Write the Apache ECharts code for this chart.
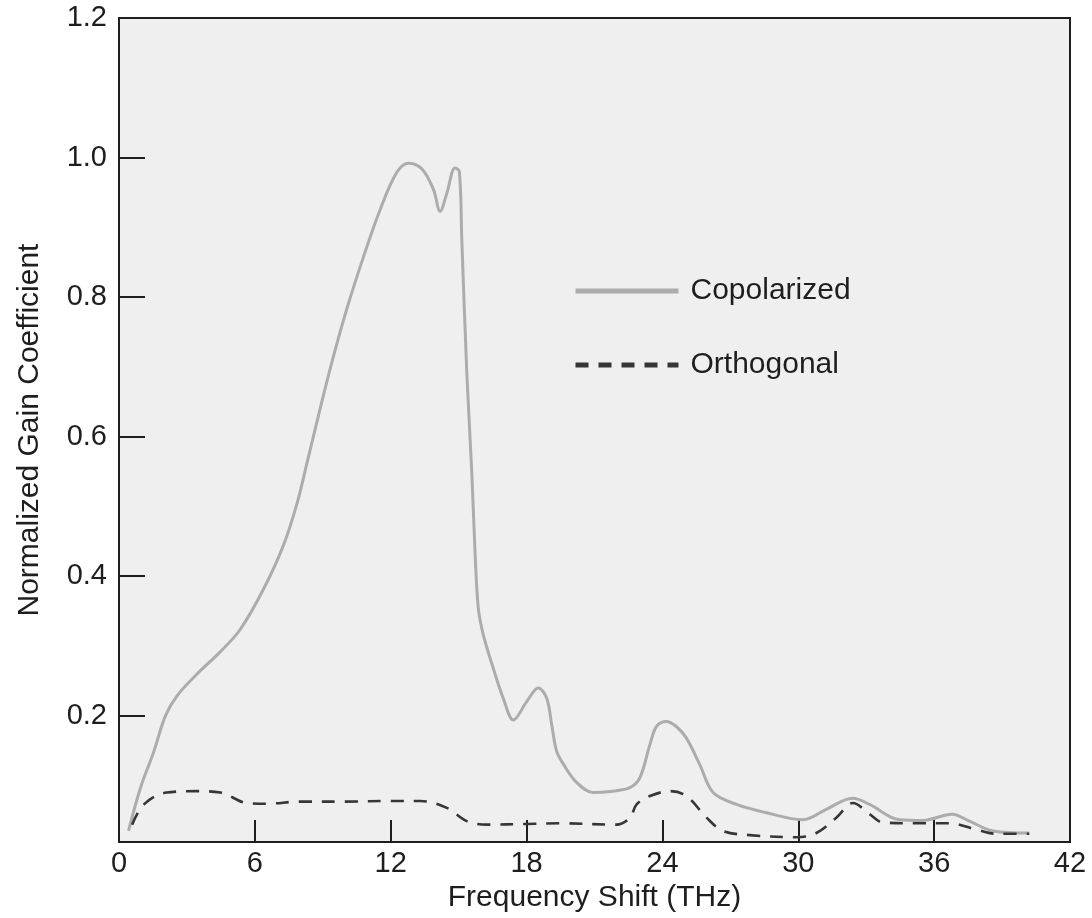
<!DOCTYPE html>
<html>
<head>
<meta charset="utf-8">
<title>Raman gain spectrum</title>
<script src="https://cdn.jsdelivr.net/npm/echarts@6/dist/echarts.min.js"></script>
<style>
  html, body { margin: 0; padding: 0; background: #ffffff; }
  #chart { width: 1092px; height: 918px; }
</style>
</head>
<body>
<div id="chart"></div>
<script>
// Frequency shift (THz) and normalized gain for the copolarized pump/signal case
const copolFreq = [0.42, 0.95, 1.54, 2.05, 2.57, 3.45, 4.48, 5.36, 6.39, 7.27, 7.86, 8.3, 8.89, 9.47, 10.07, 10.8, 11.54, 12.27, 12.8, 13.4, 13.89, 14.18, 14.48, 14.84, 15.03, 15.14, 15.36, 15.58, 15.73, 15.87, 16.09, 16.53, 16.97, 17.42, 18.0, 18.52, 18.89, 19.11, 19.33, 19.64, 20.2, 20.94, 21.8, 22.56, 23.0, 23.45, 23.74, 24.18, 24.6, 25.06, 25.65, 26.24, 27.27, 28.6, 30.2, 31.24, 32.4, 33.15, 34.47, 35.5, 36.8, 37.56, 38.6, 40.2];
const copolGain = [0.035, 0.097, 0.149, 0.2, 0.229, 0.26, 0.292, 0.324, 0.382, 0.445, 0.504, 0.562, 0.641, 0.715, 0.784, 0.858, 0.926, 0.979, 0.992, 0.983, 0.954, 0.923, 0.949, 0.985, 0.98, 0.882, 0.692, 0.549, 0.43, 0.354, 0.316, 0.268, 0.225, 0.194, 0.22, 0.24, 0.225, 0.187, 0.149, 0.13, 0.105, 0.09, 0.092, 0.097, 0.111, 0.159, 0.185, 0.192, 0.185, 0.168, 0.13, 0.09, 0.073, 0.061, 0.051, 0.066, 0.082, 0.073, 0.051, 0.05, 0.059, 0.049, 0.035, 0.032];

// Same quantities for orthogonally polarized pump and signal
const orthoFreq = [0.58, 1.1, 2.1, 3.45, 4.48, 5.65, 6.5, 8, 10, 12, 13.3, 14.48, 15.36, 16.24, 18, 19.47, 21.97, 22.57, 22.86, 23.45, 24.33, 25.06, 25.95, 26.68, 27.86, 29.92, 30.8, 31.68, 32.41, 33.15, 33.74, 35.2, 36.68, 37.86, 38.74, 40.2];
const orthoGain = [0.044, 0.073, 0.09, 0.092, 0.09, 0.075, 0.074, 0.077, 0.077, 0.078, 0.078, 0.068, 0.049, 0.044, 0.045, 0.046, 0.044, 0.054, 0.073, 0.085, 0.092, 0.085, 0.054, 0.035, 0.029, 0.026, 0.032, 0.054, 0.075, 0.059, 0.047, 0.046, 0.046, 0.037, 0.031, 0.031];

// Axis tick labels
const xTickValues = [0, 6, 12, 18, 24, 30, 36, 42];
const yTickValues = [0.2, 0.4, 0.6, 0.8, 1.0, 1.2];

const seriesNames = ['Copolarized', 'Orthogonal'];

const zip = (xs, ys) => xs.map((x, i) => [x, ys[i]]);

const FONT = '"Liberation Sans", Arial, Helvetica, sans-serif';
const INK = '#1e1e1e';

const chart = echarts.init(document.getElementById('chart'), null, { renderer: 'canvas' });

chart.setOption({
  backgroundColor: '#ffffff',
  animation: false,
  grid: {
    left: 119,
    right: 22,
    top: 18,
    bottom: 74,
    show: true,
    backgroundColor: '#efefef',
    borderColor: INK,
    borderWidth: 2
  },
  legend: {
    orient: 'vertical',
    left: 573,
    top: 276,
    padding: 0,
    itemWidth: 103,
    itemHeight: 14,
    itemGap: 44,
    data: seriesNames,
    // plain line keys, no marker dot
    itemStyle: { color: 'rgba(0,0,0,0)', borderWidth: 0, opacity: 0 },
    lineStyle: { width: 5 },
    textStyle: {
      fontFamily: FONT,
      fontSize: 30,
      lineHeight: 30,
      color: INK,
      padding: [0, 0, 0, 7]
    }
  },
  xAxis: {
    type: 'value',
    min: 0,
    max: 42,
    interval: 6,
    name: 'Frequency Shift (THz)',
    nameLocation: 'middle',
    nameGap: 38,
    nameTextStyle: { fontFamily: FONT, fontSize: 30, color: INK },
    axisLine: { show: true, lineStyle: { color: INK, width: 2 } },
    axisTick: {
      show: true,
      inside: true,
      length: 22,
      customValues: xTickValues.slice(1, -1),
      lineStyle: { color: INK, width: 2 }
    },
    axisLabel: {
      customValues: xTickValues,
      margin: 7,
      fontFamily: FONT,
      fontSize: 29,
      color: INK
    },
    splitLine: { show: false }
  },
  yAxis: {
    type: 'value',
    min: 0.019,
    max: 1.2,
    name: 'Normalized Gain Coefficient',
    nameLocation: 'middle',
    nameGap: 74,
    nameTextStyle: { fontFamily: FONT, fontSize: 30, color: INK },
    axisLine: { show: true, lineStyle: { color: INK, width: 2 } },
    axisTick: {
      show: true,
      inside: true,
      length: 26,
      customValues: yTickValues.slice(0, -1),
      lineStyle: { color: INK, width: 2 }
    },
    axisLabel: {
      customValues: yTickValues,
      margin: 12,
      fontFamily: FONT,
      fontSize: 29,
      color: INK,
      formatter: v => v.toFixed(1)
    },
    splitLine: { show: false }
  },
  series: [
    {
      name: seriesNames[0],
      type: 'line',
      data: zip(copolFreq, copolGain),
      symbol: 'none',
      smooth: 0.35,
      lineStyle: { color: '#acacac', width: 3 },
      itemStyle: { color: '#acacac' },
      z: 3
    },
    {
      name: seriesNames[1],
      type: 'line',
      data: zip(orthoFreq, orthoGain),
      symbol: 'none',
      smooth: 0.35,
      lineStyle: { color: '#363636', width: 2.6, type: [13, 10] },
      itemStyle: { color: '#363636' },
      z: 4
    }
  ]
});
</script>
</body>
</html>
